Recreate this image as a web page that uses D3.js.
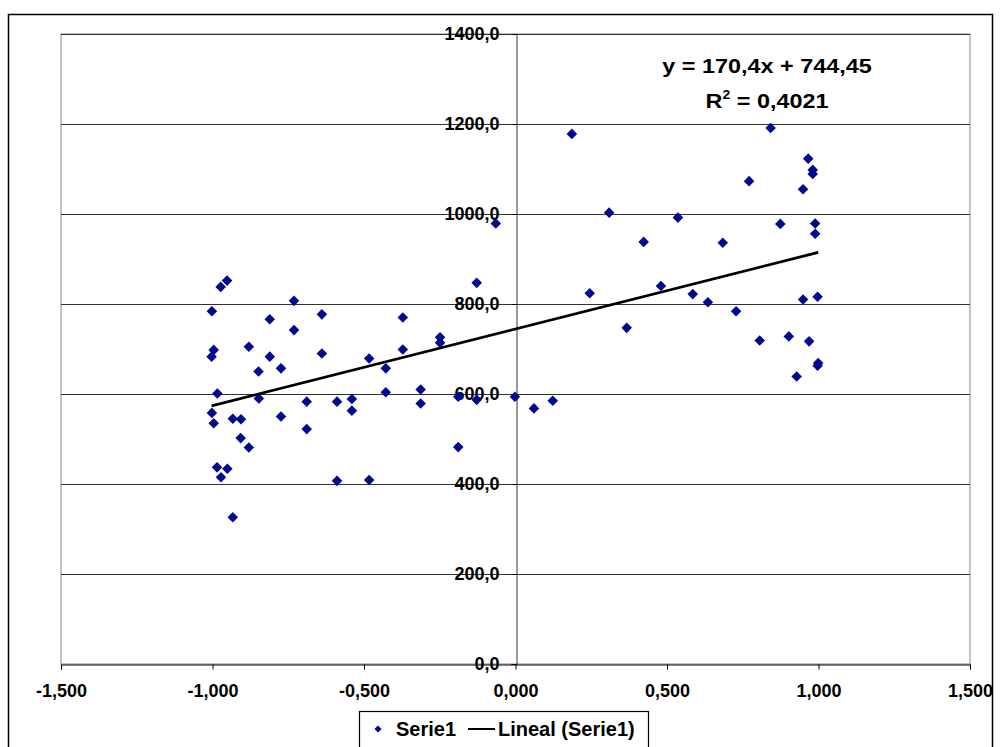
<!DOCTYPE html>
<html>
<head>
<meta charset="utf-8">
<script src="https://cdn.jsdelivr.net/npm/d3@7"></script>
<style>
  body { margin: 0; background: #fff; }
  text { font-family: "Liberation Sans", Arial, sans-serif; font-weight: bold; }
</style>
</head>
<body>
<div id="chart"></div>
<script>
// data
var xValues = [-0.973, -0.952, -1.002, -0.811, -0.731, -0.639, -0.731, -0.996, -1.003, -0.880,
  -0.811, -0.639, -0.848, -0.774, -0.483, -0.428, -0.984, -0.428, -0.847, -0.689,
  -0.589, -0.540, -0.540, -1.002, -0.996, -0.933, -0.906, -0.774, -0.689, -0.907,
  -0.880, -0.985, -0.951, -0.972, -0.589, -0.483, -0.933, -0.065, -0.128, -0.372,
  -0.249, -0.249, -0.372, -0.313, -0.313, -0.189, -0.128, -0.189, -0.002, 0.061,
  0.123, 0.186, 0.309, 0.536, 0.423, 0.245, 0.480, 0.585, 0.367, 0.842,
  0.966, 0.981, 0.981, 0.771, 0.949, 0.874, 0.989, 0.989, 0.684, 0.635,
  0.728, 0.949, 0.997, 0.806, 0.902, 0.969, 0.997, 0.999, 0.928];
var yValues = [838, 852, 784, 766, 807, 777, 742, 698, 683, 705,
  683, 690, 650, 657, 679, 657, 601, 604, 590, 583,
  583, 589, 563, 558, 535, 545, 544, 550, 522, 502,
  481, 437, 434, 415, 407, 409, 326, 979, 847, 770,
  726, 714, 699, 610, 579, 594, 587, 482, 594, 568,
  585, 1178, 1003, 992, 938, 824, 840, 822, 747, 1191,
  1123, 1098, 1089, 1073, 1055, 978, 979, 956, 936, 804,
  784, 810, 816, 719, 728, 717, 663, 669, 639];
var xTicks = [-1.5, -1.0, -0.5, 0, 0.5, 1.0, 1.5];
var yTicks = [0, 200, 400, 600, 800, 1000, 1200, 1400];
var slope = 170.4, intercept = 744.45;
var equationLabel = "y = 170,4x + 744,45";
var r2Label = "0,4021";
var seriesName = "Serie1";
var trendName = "Lineal (Serie1)";

var width = 1000, height = 747;
var margin = { top: 34, right: 30, bottom: 83, left: 61 };

var svg = d3.select("#chart").append("svg")
  .attr("width", width)
  .attr("height", height);

// outer chart border
svg.append("rect")
  .attr("x", 8.5).attr("y", 14.5)
  .attr("width", 984).attr("height", 745)
  .attr("fill", "none").attr("stroke", "#000").attr("stroke-width", 1.5);

var x = d3.scaleLinear().domain([-1.5, 1.5]).range([margin.left, width - margin.right]);
var y = d3.scaleLinear().domain([0, 1400]).range([height - margin.bottom, margin.top]);

// comma decimals, plain hyphen for negatives
var commaFmt = function(f) {
  return function(d) { return d3.format(f)(d).replace(".", ",").replace("\u2212", "-"); };
};

// plot area border
svg.append("rect")
  .attr("x", x(-1.5)).attr("y", y(1400))
  .attr("width", x(1.5) - x(-1.5)).attr("height", y(0) - y(1400))
  .attr("fill", "none").attr("stroke", "#888").attr("stroke-width", 1);

// horizontal gridlines
svg.append("g").selectAll("line")
  .data(yTicks.filter(d => d > 0))
  .enter().append("line")
  .attr("x1", x(-1.5)).attr("x2", x(1.5))
  .attr("y1", d => Math.round(y(d)) + 0.5).attr("y2", d => Math.round(y(d)) + 0.5)
  .attr("stroke", "#333").attr("stroke-width", 1);

// y axis at x = 0
var yAxis = svg.append("g")
  .attr("transform", `translate(${Math.round(x(0)) + 0.5},0)`)
  .call(d3.axisLeft(y).tickValues(yTicks).tickFormat(commaFmt(".1f")).tickSize(5).tickPadding(12));
yAxis.selectAll("text").attr("font-size", 18).attr("fill", "#000")
  .style("font-family", "'Liberation Sans', Arial, sans-serif").style("font-weight", "bold");
yAxis.select(".domain").attr("stroke", "#333");

// x axis at y = 0
var xAxis = svg.append("g")
  .attr("transform", `translate(0,${Math.round(y(0)) + 0.5})`)
  .call(d3.axisBottom(x).tickValues(xTicks).tickFormat(commaFmt(".3f")).tickSize(5).tickPadding(15));
xAxis.selectAll("text").attr("font-size", 18).attr("fill", "#000")
  .style("font-family", "'Liberation Sans', Arial, sans-serif").style("font-weight", "bold");
xAxis.select(".domain").attr("stroke", "#000");

// points
var points = xValues.map((d, i) => ({ x: d, y: yValues[i] }));
var diamond = d3.symbol().type(d3.symbolSquare).size(56);
svg.append("g").selectAll("path")
  .data(points)
  .enter().append("path")
  .attr("d", diamond)
  .attr("transform", d => `translate(${x(d.x)},${y(d.y)}) rotate(45)`)
  .attr("fill", "#000a8c");

// trend line
var xMin = d3.min(xValues), xMax = d3.max(xValues);
svg.append("line")
  .attr("x1", x(xMin)).attr("y1", y(slope * xMin + intercept))
  .attr("x2", x(xMax)).attr("y2", y(slope * xMax + intercept))
  .attr("stroke", "#000").attr("stroke-width", 2.8);

// equation (text in the original is drawn a bit wide)
var eq = svg.append("g").attr("transform", "translate(767,0) scale(1.17,1)");
eq.append("text")
  .attr("x", 0).attr("y", 73)
  .attr("text-anchor", "middle").attr("font-size", 20)
  .text(equationLabel);
var r2 = eq.append("text")
  .attr("x", 0).attr("y", 108)
  .attr("text-anchor", "middle").attr("font-size", 20);
r2.append("tspan").text("R");
r2.append("tspan").attr("font-size", 12).attr("dy", -9).text("2");
r2.append("tspan").attr("dy", 9).text(" = " + r2Label);

// legend
var legend = svg.append("g").attr("transform", "translate(359,711)");
legend.append("rect")
  .attr("x", 0.5).attr("y", 0.5).attr("width", 289).attr("height", 40)
  .attr("fill", "#fff").attr("stroke", "#000").attr("stroke-width", 1.2);
legend.append("path")
  .attr("d", d3.symbol().type(d3.symbolSquare).size(26))
  .attr("transform", "translate(19,18) rotate(45)")
  .attr("fill", "#000a8c");
legend.append("text").attr("x", 37).attr("y", 25).attr("font-size", 20).text(seriesName);
legend.append("line")
  .attr("x1", 109).attr("x2", 136).attr("y1", 18).attr("y2", 18)
  .attr("stroke", "#000").attr("stroke-width", 2);
legend.append("text").attr("x", 139).attr("y", 25).attr("font-size", 20).text(trendName);
</script>
</body>
</html>
